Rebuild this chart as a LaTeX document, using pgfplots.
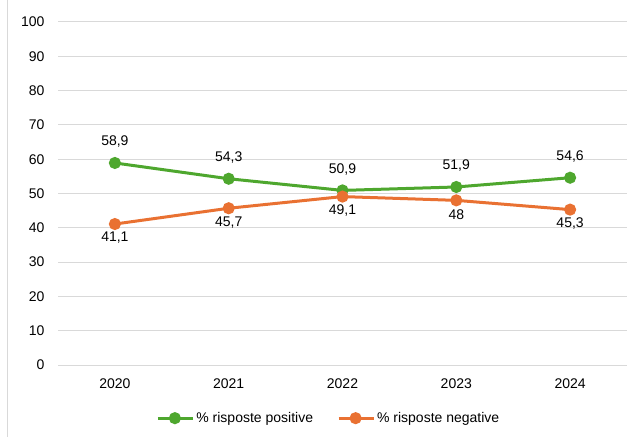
\documentclass[border=0pt]{standalone}
\usepackage{pgfplots}
\pgfplotsset{compat=1.18}
\usepackage{fontspec}
\setmainfont{Liberation Sans}
\definecolor{cgreen}{HTML}{4EA72E}
\definecolor{corange}{HTML}{E97132}
\definecolor{cgrid}{HTML}{D9D9D9}
\begin{document}
\begin{tikzpicture}
\useasboundingbox (-58bp,-72bp) rectangle (580bp,365bp);
\draw[cgrid, line width=1bp] (-50bp,-72bp) -- (-50bp,365bp);
\begin{axis}[
  at={(0,0)}, anchor=south west,
  scale only axis,
  width=569bp, height=343bp,
  xmin=2019.5, xmax=2024.5,
  ymin=0, ymax=100,
  xtick={2020,2021,2022,2023,2024},
  xticklabels={2020,2021,2022,2023,2024},
  ytick={0,10,...,100},
  axis line style={draw=none},
  tick style={draw=none},
  ymajorgrids,
  grid style={cgrid, line width=1bp},
  font=\fontsize{14bp}{16bp}\selectfont,
  /pgf/number format/assume math mode=true,
  /pgf/number format/use comma,
  yticklabel style={xshift=-10bp},
  xticklabel style={yshift=-10bp},
  clip=false,
  legend style={at={(0.476,-0.155)}, anchor=center, legend columns=2, draw=none,
    font=\fontsize{14bp}{16bp}\selectfont,
    /tikz/every even column/.append style={column sep=22bp},
    /tikz/every odd column/.append style={column sep=0bp},
    inner sep=0pt},
  legend image code/.code={\draw[mark repeat=2,mark phase=2] plot coordinates {(0bp,0bp) (17bp,0bp) (35bp,0bp)};},
]
\addplot[cgreen, line width=3bp, mark=*, mark size=4.5bp, mark options={solid},
  nodes near coords,
  every node near coord/.append style={anchor=center, yshift=21bp, text=black, font=\fontsize{14bp}{16bp}\selectfont}]
  coordinates {(2020,58.9) (2021,54.3) (2022,50.9) (2023,51.9) (2024,54.6)};
\addlegendentry{\% risposte positive}
\addplot[corange, line width=3bp, mark=*, mark size=4.5bp, mark options={solid},
  nodes near coords,
  every node near coord/.append style={anchor=center, yshift=-14bp, text=black, font=\fontsize{14bp}{16bp}\selectfont}]
  coordinates {(2020,41.1) (2021,45.7) (2022,49.1) (2023,48) (2024,45.3)};
\addlegendentry{\% risposte negative}
\end{axis}
\end{tikzpicture}
\end{document}
